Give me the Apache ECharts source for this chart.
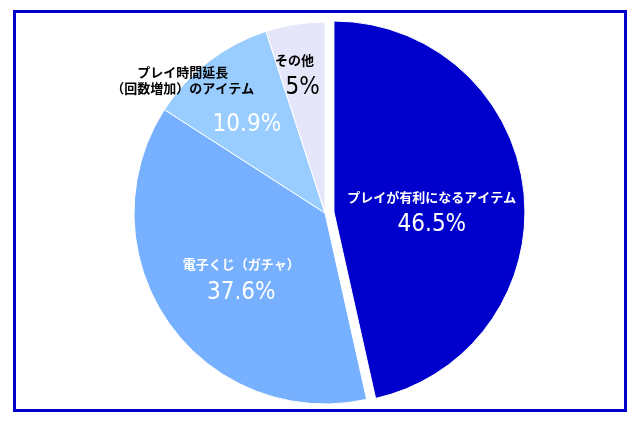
<!DOCTYPE html>
<html><head><meta charset="utf-8">
<script src="https://cdn.jsdelivr.net/npm/echarts@6/dist/echarts.min.js"></script>
<style>html,body{margin:0;padding:0;background:#fff}#c{width:640px;height:425px}
#frame{position:absolute;left:13px;top:10px;width:608px;height:396px;border:3px solid #0000CC;pointer-events:none}</style>
</head><body><div id="c"></div><div id="frame"></div>
<script>
const categories = ['プレイが有利になるアイテム', '電子くじ（ガチャ）', 'プレイ時間延長\n（回数増加）のアイテム', 'その他'];
const values = [46.5, 37.6, 10.9, 5];
const valueLabels = ['46.5%', '37.6%', '10.9%', '5%'];
const colors = ['#0000CC', '#77B0FF', '#99CCFF', '#E6E6FA'];

const jp = '"Noto Sans CJK JP", sans-serif';
const num = '"DejaVu Sans Condensed", "Liberation Sans Narrow", sans-serif';
const labelOffsets = [[0, 12], [-3, 11], [-82, -26], [-15, -38]];

const data = categories.map((name, i) => {
  const isBig = i === 0;
  let fmt, rich;
  if (i < 2) {
    fmt = '{n|' + name + '}\n{v|' + valueLabels[i] + '}';
    rich = {
      n: {color: '#fff', fontFamily: jp, fontSize: 13, fontWeight: 'bold', lineHeight: 24},
      v: {color: '#fff', fontFamily: num, fontSize: 24, lineHeight: 32}
    };
  } else if (i === 2) {
    const parts = name.split('\n');
    fmt = '{n|' + parts[0] + '}\n{n|' + parts[1] + '}\n{v|' + valueLabels[i] + '}';
    rich = {
      n: {color: '#000', fontFamily: jp, fontSize: 13, fontWeight: 'bold', lineHeight: 16},
      v: {color: '#fff', fontFamily: num, fontSize: 24, lineHeight: 58, padding: [0, 0, 0, 128]}
    };
  } else {
    fmt = '{n|' + name + '}\n{v|' + valueLabels[i] + '}';
    rich = {
      n: {color: '#000', fontFamily: jp, fontSize: 13, fontWeight: 'bold', lineHeight: 20},
      v: {color: '#000', fontFamily: num, fontSize: 24, lineHeight: 36, padding: [0, 0, 0, 16]}
    };
  }
  const label = {formatter: fmt, rich, offset: labelOffsets[i]};
  return {
    name, value: values[i], selected: isBig,
    itemStyle: {color: colors[i]},
    label,
    select: {itemStyle: {color: colors[i]}, label: {offset: labelOffsets[i]}}
  };
});

const chart = echarts.init(document.getElementById('c'), null, {renderer: 'canvas'});
chart.setOption({
  animation: false,
  series: [{
    type: 'pie',
    center: [325, 213],
    radius: [0, 191],
    startAngle: 90,
    clockwise: true,
    selectedMode: 'single',
    selectedOffset: 9,
    avoidLabelOverlap: false,
    labelLayout: {hideOverlap: false},
    itemStyle: {borderColor: '#fff', borderWidth: 1},
    label: {show: true, position: 'inside', align: 'center'},
    labelLine: {show: false},
    emphasis: {disabled: true},
    data
  }]
});
</script></body></html>
